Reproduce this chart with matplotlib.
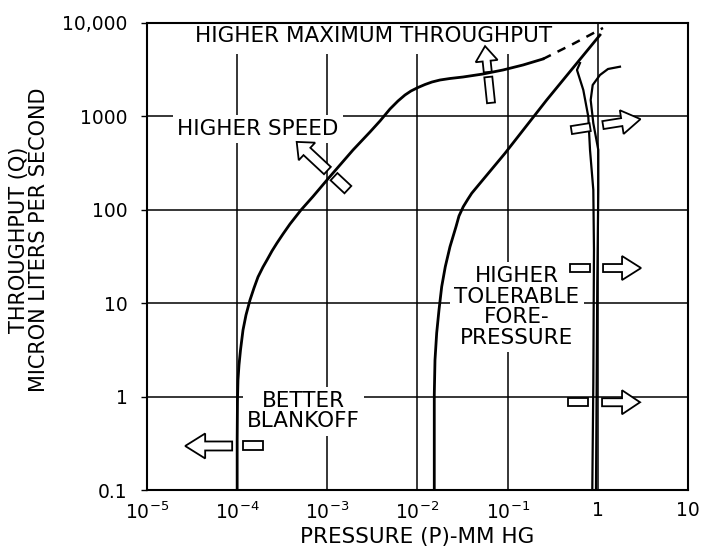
import matplotlib
matplotlib.use("Agg")
import matplotlib.pyplot as plt
import matplotlib.transforms as mtransforms
from matplotlib.patches import Polygon

# 曲线数据 (压力 mm Hg, 抽气量 micron liters/s)
speed_p = [1.0e-4, 1.0e-4, 1.008e-4, 1.021e-4, 1.048e-4, 1.089e-4, 1.161e-4, 1.253e-4,
           1.388e-4, 1.537e-4, 1.702e-4, 1.934e-4, 2.142e-4, 2.433e-4, 2.765e-4, 3.224e-4,
           3.854e-4, 5.104e-4, 6.934e-4, 9.91e-4, 1.926e-3, 2.972e-3, 3.837e-3, 4.953e-3,
           6.075e-3, 7.265e-3, 8.471e-3, 1.0125e-2, 1.211e-2, 1.448e-2, 1.776e-2, 2.293e-2,
           3.195e-2, 5.325e-2, 8.873e-2, 0.1479, 0.2464]
speed_q = [0.1, 0.343, 0.92, 1.506, 2.179, 3.155, 5.166, 7.476,
           10.82, 14.55, 19.08, 24.41, 29.01, 36.21, 44.11, 55.07,
           70.47, 99.5, 138.8, 208.5, 436.8, 680.8, 892.9, 1200,
           1462, 1695, 1871, 2039, 2195, 2335, 2453, 2546,
           2641, 2844, 3140, 3551, 4118]
maxq_p = [0.2464, 0.530, 1.141]
maxq_q = [4118, 5959, 8843]

mid_p = [0.01535, 0.01535, 0.01535, 0.01563, 0.01632, 0.01731, 0.01855, 0.02033,
         0.02293, 0.02673, 0.02884, 0.03219, 0.03631, 0.03990, 0.04932, 0.09339,
         0.2708, 1.056]
mid_q = [0.1, 0.4076, 1.040, 2.465, 4.797, 8.457, 15.02, 24.59,
         40.27, 65.93, 85.8, 108.0, 130.5, 150.2, 192.2, 402.7,
         1498, 7436]

fore1_p = [0.634, 0.587, 0.690, 0.784, 0.819, 0.891, 0.906, 0.891, 0.868]
fore1_q = [3729, 3140, 1918, 993, 437, 163, 37.1, 1.40, 0.1]
fore2_p = [1.760, 1.296, 1.056, 0.877, 0.833, 0.891, 1.012, 1.012, 0.986, 0.971, 0.954]
fore2_q = [3405, 3218, 2775, 2169, 1498, 844, 437, 163, 16.46, 1.398, 0.1]

xticks = [1e-5, 1e-4, 1e-3, 1e-2, 1e-1, 1, 10]
xlabels = [r'$\mathregular{10^{-5}}$', r'$\mathregular{10^{-4}}$', r'$\mathregular{10^{-3}}$',
           r'$\mathregular{10^{-2}}$', r'$\mathregular{10^{-1}}$', '1', '10']
yticks = [0.1, 1, 10, 100, 1000, 10000]
ylabels = ['0.1', '1', '10', '100', '1000', '10,000']

plt.rcParams['font.family'] = ['DejaVu Sans']

fig = plt.figure(figsize=(7.04, 5.49), dpi=100)
ax = fig.add_axes([147 / 704, 1 - 490 / 549, 541 / 704, 467 / 549])
ax.set_xscale('log')
ax.set_yscale('log')
ax.set_xlim(1e-5, 10)
ax.set_ylim(0.1, 10000)
ax.set_xticks(xticks)
ax.set_xticklabels(xlabels, fontsize=13.5)
ax.set_yticks(yticks)
ax.set_yticklabels(ylabels, fontsize=13.5)
ax.minorticks_off()
ax.tick_params(axis='y', direction='out', length=4, width=1, pad=10)
ax.tick_params(axis='x', direction='out', length=0, pad=8)
ax.set_axisbelow(True)
ax.grid(True, color='black', linewidth=1.1)
for s in ax.spines.values():
    s.set_linewidth(1.5)
    s.set_zorder(5)

ax.plot(speed_p, speed_q, color='black', lw=2.0, zorder=3)
ax.plot(maxq_p, maxq_q, color='black', lw=1.8, ls=(0, (3.5, 3)), zorder=3)
ax.plot(mid_p, mid_q, color='black', lw=2.0, zorder=3)
ax.plot(fore1_p, fore1_q, color='black', lw=1.6, zorder=3)
ax.plot(fore2_p, fore2_q, color='black', lw=1.6, zorder=3)

ax.set_xlabel('PRESSURE (P)-MM HG', fontsize=15.5, labelpad=3)
fig.text(29 / 704, 1 - 240 / 549, 'THROUGHPUT (Q)\nMICRON LITERS PER SECOND',
         rotation=90, ha='center', va='center', fontsize=15, linespacing=1.0)

box = dict(facecolor='white', edgecolor='none', pad=3)
ax.text(3.25e-3, 7260, 'HIGHER MAXIMUM THROUGHPUT', ha='center', va='center',
        fontsize=15.5, zorder=2, bbox=dict(facecolor='white', edgecolor='none', pad=6))
ax.text(1.70e-4, 733, 'HIGHER SPEED', ha='center', va='center',
        fontsize=15.5, zorder=2, bbox=box)
ax.text(5.4e-4, 0.70, 'BETTER\nBLANKOFF', ha='center', va='center',
        fontsize=15.5, zorder=2, linespacing=1.05, bbox=box)
ax.text(0.1267, 9.1, 'HIGHER\nTOLERABLE\nFORE-\nPRESSURE', ha='center',
        va='center', fontsize=15.5, zorder=2, linespacing=1.05, bbox=box)


def split_arrow(x, y, ang, tail, shaft, tip, hs, hh):
    # 空心箭头：前面箭头 + 后面断开的一小截，单位是像素
    tr = (mtransforms.Affine2D().rotate_deg(ang).scale(1 / 100.) + fig.dpi_scale_trans
          + mtransforms.ScaledTranslation(x, y, ax.transData))
    head = [(shaft[0], -hs), (shaft[1], -hs), (shaft[1], -hh), (tip, 0),
            (shaft[1], hh), (shaft[1], hs), (shaft[0], hs)]
    rect = [(tail[0], -hs), (tail[1], -hs), (tail[1], hs), (tail[0], hs)]
    for pts in (head, rect):
        ax.add_patch(Polygon(pts, closed=True, facecolor='white', edgecolor='black',
                             lw=1.3, transform=tr, zorder=4))


split_arrow(0.98, 789, 9, (-26, -7), (6, 25), 44, 4, 12)
split_arrow(0.98, 23.8, 0, (-27, -7), (6, 25), 44, 4, 12)
split_arrow(0.98, 0.87, 0, (-29, -9), (5, 25), 43, 4, 12)
split_arrow(1e-4, 0.296, 180, (-26, -6), (5, 32), 52, 4.5, 12.5)
split_arrow(0.0605, 2844, 96, (-29, -3), (2, 13), 28, 4, 11)
split_arrow(1.1e-3, 242, 137, (-23, -4), (5, 33), 47, 5, 12)

fig.savefig('out.png', dpi=100)
